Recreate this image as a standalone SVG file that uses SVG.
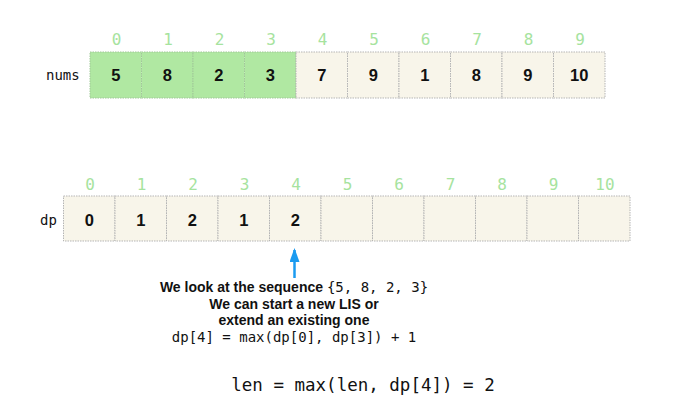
<svg xmlns="http://www.w3.org/2000/svg" width="688" height="412" viewBox="0 0 688 412">
<defs>
<style>
.bg{fill:#ffffff}
.cell{fill:#f8f5ea;stroke:#b5b5b5;stroke-width:1;stroke-dasharray:1.5,1}
.hl{fill:#b0e8a2;stroke:#a0c898;stroke-width:1;stroke-dasharray:1.5,1}
.idx{font-family:"DejaVu Sans Mono","Liberation Mono",monospace;font-size:16px;fill:#a6e39e;text-anchor:middle}
.val{font-family:"Liberation Sans",Arial,sans-serif;font-weight:bold;font-size:16.5px;fill:#111;text-anchor:middle}
.lbl{font-family:"DejaVu Sans Mono","Liberation Mono",monospace;font-size:14px;fill:#111}
.note{font-family:"Liberation Sans",Arial,sans-serif;font-weight:bold;font-size:14px;fill:#111;text-anchor:middle}
.mono{font-family:"DejaVu Sans Mono","Liberation Mono",monospace;font-weight:normal}
</style>
<marker id="ah" viewBox="0 0 14 10" refX="12" refY="5" markerWidth="14" markerHeight="10" markerUnits="userSpaceOnUse" orient="auto">
<path d="M0,0 L14,5 L0,10 Z" fill="#1b9bf0"/>
</marker>
</defs>
<rect class="bg" x="0" y="0" width="688" height="412"/>

<g id="nums">
<text class="lbl" x="46" y="80">nums</text>
<rect class="hl" x="90" y="52" width="51.5" height="46"/>
<rect class="hl" x="141.5" y="52" width="51.5" height="46"/>
<rect class="hl" x="193" y="52" width="51.5" height="46"/>
<rect class="hl" x="244.5" y="52" width="51.5" height="46"/>
<rect class="cell" x="296" y="52" width="51.5" height="46"/>
<rect class="cell" x="347.5" y="52" width="51.5" height="46"/>
<rect class="cell" x="399" y="52" width="51.5" height="46"/>
<rect class="cell" x="450.5" y="52" width="51.5" height="46"/>
<rect class="cell" x="502" y="52" width="51.5" height="46"/>
<rect class="cell" x="553.5" y="52" width="51.5" height="46"/>
<text class="idx" x="116.5" y="45">0</text>
<text class="idx" x="168" y="45">1</text>
<text class="idx" x="219.5" y="45">2</text>
<text class="idx" x="271" y="45">3</text>
<text class="idx" x="322.5" y="45">4</text>
<text class="idx" x="374" y="45">5</text>
<text class="idx" x="425.5" y="45">6</text>
<text class="idx" x="477" y="45">7</text>
<text class="idx" x="528.5" y="45">8</text>
<text class="idx" x="580" y="45">9</text>
<text class="val" x="115.75" y="81">5</text>
<text class="val" x="167.25" y="81">8</text>
<text class="val" x="218.75" y="81">2</text>
<text class="val" x="270.25" y="81">3</text>
<text class="val" x="321.75" y="81">7</text>
<text class="val" x="373.25" y="81">9</text>
<text class="val" x="424.75" y="81">1</text>
<text class="val" x="476.25" y="81">8</text>
<text class="val" x="527.75" y="81">9</text>
<text class="val" x="579.25" y="81">10</text>
</g>

<g id="dp">
<text class="lbl" x="40" y="225">dp</text>
<rect class="cell" x="63.5" y="196" width="51.5" height="45"/>
<rect class="cell" x="115" y="196" width="51.5" height="45"/>
<rect class="cell" x="166.5" y="196" width="51.5" height="45"/>
<rect class="cell" x="218" y="196" width="51.5" height="45"/>
<rect class="cell" x="269.5" y="196" width="51.5" height="45"/>
<rect class="cell" x="321" y="196" width="51.5" height="45"/>
<rect class="cell" x="372.5" y="196" width="51.5" height="45"/>
<rect class="cell" x="424" y="196" width="51.5" height="45"/>
<rect class="cell" x="475.5" y="196" width="51.5" height="45"/>
<rect class="cell" x="527" y="196" width="51.5" height="45"/>
<rect class="cell" x="578.5" y="196" width="51.5" height="45"/>
<text class="idx" x="90" y="190">0</text>
<text class="idx" x="141.5" y="190">1</text>
<text class="idx" x="193" y="190">2</text>
<text class="idx" x="244.5" y="190">3</text>
<text class="idx" x="296" y="190">4</text>
<text class="idx" x="347.5" y="190">5</text>
<text class="idx" x="399" y="190">6</text>
<text class="idx" x="450.5" y="190">7</text>
<text class="idx" x="502" y="190">8</text>
<text class="idx" x="553.5" y="190">9</text>
<text class="idx" x="605" y="190">10</text>
<text class="val" x="89.25" y="226">0</text>
<text class="val" x="140.75" y="226">1</text>
<text class="val" x="192.25" y="226">2</text>
<text class="val" x="243.75" y="226">1</text>
<text class="val" x="295.25" y="226">2</text>
</g>

<g id="connectors">
<line x1="294.5" y1="278" x2="294.5" y2="250" stroke="#1b9bf0" stroke-width="2.5" marker-end="url(#ah)"/>
</g>

<g id="note">
<text class="note" x="294" y="292">We look at the sequence <tspan class="mono">{5, 8, 2, 3}</tspan></text>
<text class="note" x="294" y="309">We can start a new LIS or</text>
<text class="note" x="294" y="325">extend an existing one</text>
<text class="note mono" x="294" y="342" style="font-size:14px">dp[4] = max(dp[0], dp[3]) + 1</text>
</g>

<g id="len">
<text x="363" y="391" style="font-family:'DejaVu Sans Mono','Liberation Mono',monospace;font-size:17.5px;fill:#111;text-anchor:middle">len = max(len, dp[4]) = 2</text>
</g>
</svg>
